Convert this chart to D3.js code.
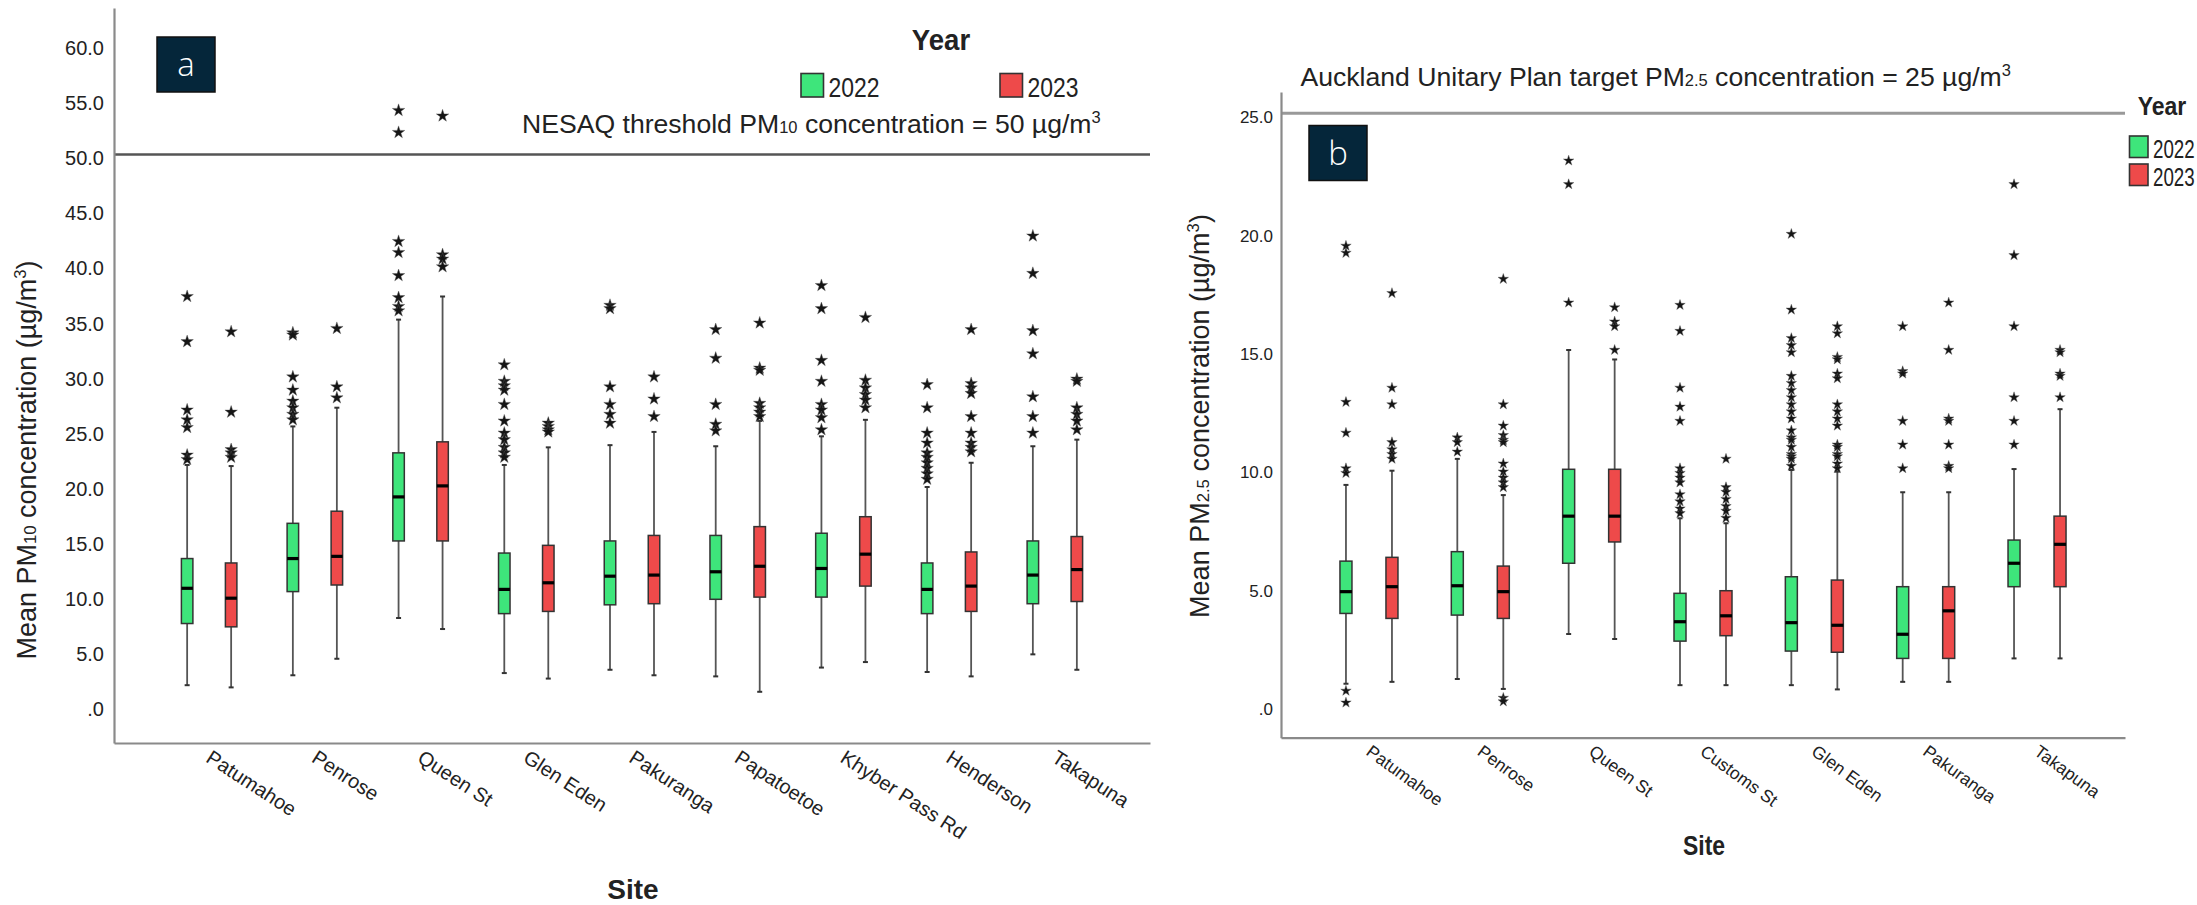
<!DOCTYPE html>
<html>
<head>
<meta charset="utf-8">
<script src="https://cdn.jsdelivr.net/npm/d3@7"></script>
<style>
  body { margin: 0; background: #fff; }
  text { font-family: "Liberation Sans", Arial, sans-serif; fill: #222; }
</style>
</head>
<body>
<script>
// ---- data ----
const years = ["2022", "2023"];
const yearColors = ["#3ee57b", "#ee4a4a"];

const sitesPM10 = ["Patumahoe", "Penrose", "Queen St", "Glen Eden", "Pakuranga",
                   "Papatoetoe", "Khyber Pass Rd", "Henderson", "Takapuna"];
const pm10Ticks = [0, 5, 10, 15, 20, 25, 30, 35, 40, 45, 50, 55, 60];

// [lower whisker, Q1, median, Q3, upper whisker]
const pm10Box2022 = [
  [1.8, 7.4, 10.6, 13.3, 21.8],
  [2.7, 10.3, 13.3, 16.5, 25.3],
  [7.9, 14.9, 18.9, 22.9, 35.0],
  [2.9, 8.3, 10.5, 13.8, 21.8],
  [3.2, 9.1, 11.7, 14.9, 23.6],
  [2.6, 9.6, 12.1, 15.4, 23.5],
  [3.4, 9.8, 12.4, 15.6, 24.4],
  [3.0, 8.3, 10.5, 12.9, 19.8],
  [4.6, 9.2, 11.8, 14.9, 23.5]
];
const pm10Box2023 = [
  [1.6, 7.1, 9.7, 12.9, 21.7],
  [4.2, 10.9, 13.5, 17.6, 27.0],
  [6.9, 14.9, 19.9, 23.9, 37.1],
  [2.4, 8.5, 11.1, 14.5, 23.4],
  [2.7, 9.2, 11.8, 15.4, 24.8],
  [1.2, 9.8, 12.6, 16.2, 25.8],
  [3.9, 10.8, 13.7, 17.1, 25.9],
  [2.6, 8.5, 10.8, 13.9, 22.0],
  [3.2, 9.4, 12.3, 15.3, 24.1]
];
const pm10Out2022 = [
  [37.1, 33.0, 26.8, 25.9, 25.2, 22.7, 22.3],
  [33.8, 33.6, 29.8, 28.6, 27.6, 27.0, 26.4, 25.9],
  [54.0, 52.0, 42.1, 41.1, 39.0, 37.0, 36.2, 35.8],
  [30.9, 29.4, 29.0, 28.6, 27.3, 25.8, 24.7, 24.1, 23.4, 22.9, 22.5],
  [36.3, 36.0, 28.9, 27.3, 26.4, 25.6],
  [34.1, 31.5, 27.3, 25.5, 24.9],
  [38.1, 36.0, 31.3, 29.4, 27.3, 26.8, 26.1, 25.0],
  [29.1, 27.0, 24.7, 23.8, 22.9, 22.5, 22.0, 21.5, 21.0, 20.5],
  [42.6, 39.2, 34.0, 31.9, 28.0, 26.2, 24.7]
];
const pm10Out2023 = [
  [33.9, 26.6, 23.2, 22.9, 22.5],
  [34.2, 28.9, 27.9],
  [53.5, 40.9, 40.5, 39.8],
  [25.6, 25.3, 25.0, 24.8],
  [29.8, 27.8, 26.2],
  [34.7, 30.6, 30.4, 27.4, 27.0, 26.6, 26.2],
  [35.2, 29.5, 28.8, 28.2, 27.7, 27.0],
  [34.1, 29.2, 28.8, 28.3, 26.2, 24.7, 23.8, 23.4, 23.0],
  [29.6, 29.4, 27.0, 26.4, 25.8, 25.0]
];

const sitesPM25 = ["Patumahoe", "Penrose", "Queen St", "Customs St", "Glen Eden", "Pakuranga", "Takapuna"];
const pm25Ticks = [0, 5, 10, 15, 20, 25];

const pm25Box2022 = [
  [0.9, 3.87, 4.79, 6.08, 9.3],
  [1.1, 3.8, 5.04, 6.48, 10.4],
  [3.0, 5.99, 7.98, 9.96, 15.0],
  [0.84, 2.70, 3.52, 4.72, 7.89],
  [0.84, 2.28, 3.48, 5.42, 9.93],
  [0.98, 1.97, 2.99, 5.0, 8.99],
  [1.97, 5.0, 5.99, 6.97, 9.97]
];
const pm25Box2023 = [
  [0.98, 3.66, 5.0, 6.24, 9.9],
  [0.68, 3.66, 4.79, 5.87, 8.87],
  [2.79, 6.89, 7.98, 9.96, 14.6],
  [0.84, 2.93, 3.77, 4.83, 7.68],
  [0.66, 2.23, 3.37, 5.28, 9.86],
  [0.98, 1.97, 3.98, 5.0, 8.99],
  [1.97, 5.0, 6.79, 7.98, 12.5]
];
const pm25Out2022 = [
  [19.4, 19.1, 12.8, 11.5, 10.0, 9.8, 0.6, 0.1],
  [11.3, 11.1, 10.7],
  [23.0, 22.0, 17.0],
  [16.9, 15.8, 13.4, 12.6, 12.0, 10.0, 9.8, 9.6, 9.4, 8.9, 8.6, 8.3, 8.1],
  [19.9, 16.7, 15.5, 15.2, 14.9, 13.9, 13.6, 13.3, 13.0, 12.7, 12.4, 12.1, 11.6,
   11.3, 11.2, 10.9, 10.6, 10.5, 10.4, 10.1],
  [16.0, 14.1, 14.0, 12.0, 11.0, 10.0],
  [22.0, 19.0, 16.0, 13.0, 12.0, 11.0]
];
const pm25Out2023 = [
  [17.4, 13.4, 12.7, 11.1, 10.8, 10.6, 10.4],
  [18.0, 12.7, 11.8, 11.4, 11.2, 11.1, 10.2, 9.86, 9.6, 9.4, 9.2, 0.3, 0.15],
  [16.8, 16.2, 16.0, 15.0],
  [10.4, 9.2, 9.0, 8.7, 8.4, 8.2, 7.9],
  [16.0, 15.7, 14.7, 14.6, 14.0, 13.8, 12.7, 12.4, 12.1, 11.8, 11.0, 10.9, 10.6, 10.5, 10.2, 10.0],
  [17.0, 15.0, 12.1, 12.0, 11.0, 10.1, 10.0],
  [15.0, 14.9, 14.0, 13.9, 13.0]
];

// ---- svg ----
const svg = d3.select("body").append("svg")
    .attr("width", 2197)
    .attr("height", 905);

svg.append("rect").attr("width", 2197).attr("height", 905).attr("fill", "#fff");

const fmt = d => d === 0 ? ".0" : d.toFixed(1);

// text with sub / sup parts
const rich = (sel, parts) => {
  parts.forEach(([t, kind]) => {
    const ts = sel.append("tspan").text(t);
    if (kind === "sub") ts.attr("font-size", "62%");
    if (kind === "sup") ts.attr("font-size", "62%").attr("dy", -10);
    if (kind === "back") ts.attr("dy", 10);
  });
};

const drawPanel = p => {
  const g = svg.append("g");

  const x = d3.scalePoint()
      .domain(p.sites)
      .range(p.xRange)
      .padding(p.pad);

  const xYear = d3.scaleBand()
      .domain(years)
      .range([-2 * p.offset, 2 * p.offset]);

  const y = d3.scaleLinear()
      .domain(p.yDomain)
      .range(p.yRange);

  // threshold line
  g.append("line")
      .attr("x1", p.xRange[0]).attr("x2", p.xRange[1])
      .attr("y1", y(p.threshold)).attr("y2", y(p.threshold))
      .attr("stroke", p.thrColor)
      .attr("stroke-width", p.thrWidth);

  // y axis
  const ya = g.append("g")
      .attr("transform", `translate(${p.xRange[0]},0)`)
      .call(d3.axisLeft(y).tickValues(p.ticks).tickSize(0).tickSizeOuter(0)
              .tickPadding(p.tickGap).tickFormat(fmt));
  ya.attr("font-family", null).attr("font-size", null);
  ya.select(".domain").attr("stroke", "#8a8a8a").attr("stroke-width", 2.2);
  ya.selectAll("text")
      .attr("y", 4)
      .style("font-size", p.tickFont + "px")
      .attr("fill", "#333");

  // x axis
  const xa = g.append("g")
      .attr("transform", `translate(0,${p.yRange[0]})`)
      .call(d3.axisBottom(x).tickSize(0).tickSizeOuter(0));
  xa.attr("font-family", null).attr("font-size", null);
  xa.select(".domain").attr("stroke", "#8a8a8a").attr("stroke-width", 2.2);
  xa.selectAll("text")
      .attr("x", 0).attr("y", 0).attr("dy", null)
      .attr("text-anchor", "start")
      .attr("dominant-baseline", "hanging")
      .attr("transform", `translate(3,6) rotate(${p.labelAngle})`)
      .style("font-size", p.labelFont + "px")
      .attr("fill", "#333");

  // boxes
  const boxes = p.sites.flatMap((s, j) => years.map((yr, i) => ({
    site: s, year: yr, v: p.box[i][j], out: p.out[i][j], color: yearColors[i]
  })));

  const bx = g.append("g")
    .selectAll("g")
    .data(boxes)
    .join("g")
      .attr("transform", d => `translate(${x(d.site) + xYear(d.year) + xYear.bandwidth() / 2},0)`);

  bx.append("line")
      .attr("y1", d => y(d.v[0])).attr("y2", d => y(d.v[4]))
      .attr("stroke", "#555").attr("stroke-width", 1.8);

  bx.selectAll(".cap")
    .data(d => [d.v[0], d.v[4]])
    .join("line")
      .attr("class", "cap")
      .attr("x1", -2.5).attr("x2", 2.5)
      .attr("y1", v => y(v)).attr("y2", v => y(v))
      .attr("stroke", "#333").attr("stroke-width", 2);

  bx.append("rect")
      .attr("x", -p.boxW / 2)
      .attr("width", p.boxW)
      .attr("y", d => y(d.v[3]))
      .attr("height", d => y(d.v[1]) - y(d.v[3]))
      .attr("fill", d => d.color)
      .attr("stroke", "#333").attr("stroke-width", 1.5);

  bx.append("line")
      .attr("x1", -p.boxW / 2).attr("x2", p.boxW / 2)
      .attr("y1", d => y(d.v[2])).attr("y2", d => y(d.v[2]))
      .attr("stroke", "#000").attr("stroke-width", 3.2);

  bx.selectAll(".out")
    .data(d => d.out)
    .join("path")
      .attr("class", "out")
      .attr("d", d3.symbol(d3.symbolStar, p.starSize))
      .attr("transform", v => `translate(0,${y(v)})`)
      .attr("fill", "#151515")
      .attr("stroke", "#555").attr("stroke-width", 0.4);

  // threshold label
  const tl = g.append("text")
      .attr("x", p.thrText[0]).attr("y", p.thrText[1])
      .style("font-size", "26.6px");
  rich(tl, p.thrParts);

  // axis titles
  const yt = g.append("text")
      .attr("transform", `translate(${p.yTitle[0]},${p.yTitle[1]}) rotate(-90)`)
      .attr("text-anchor", "middle")
      .style("font-size", "27px");
  rich(yt, p.yParts);

  g.append("text")
      .attr("transform", `translate(${p.xTitle[0]},${p.xTitle[1]}) scale(${p.xTitle[3]},1)`)
      .attr("text-anchor", "middle")
      .style("font-size", p.xTitle[2] + "px")
      .style("font-weight", "bold")
      .attr("fill", "#111")
      .text("Site");

  // panel letter
  g.append("rect")
      .attr("x", p.letterBox[0]).attr("y", p.letterBox[1])
      .attr("width", 58).attr("height", 55)
      .attr("fill", "#05263a").attr("stroke", "#111").attr("stroke-width", 1.5);
  g.append("text")
      .attr("x", p.letterBox[0] + 29).attr("y", p.letterBox[1] + 39)
      .attr("text-anchor", "middle")
      .style("font-family", "'Open Sans', sans-serif")
      .style("font-weight", 300)
      .style("font-size", "33px")
      .attr("fill", "#fff")
      .style("fill", "#fff")
      .text(p.letter);

  // legend
  const L = p.legend;
  g.append("text")
      .attr("transform", `translate(${L.title[0]},${L.title[1]}) scale(${L.titleScale},1)`)
      .attr("text-anchor", "middle")
      .style("font-size", L.titleFont + "px")
      .style("font-weight", "bold")
      .attr("fill", "#111")
      .text("Year");

  const li = g.selectAll(".leg")
    .data(years)
    .join("g")
      .attr("class", "leg")
      .attr("transform", (d, i) => `translate(${L.items[i][0]},${L.items[i][1]})`);
  li.append("rect")
      .attr("width", L.sw[0]).attr("height", L.sw[1])
      .attr("fill", (d, i) => yearColors[i])
      .attr("stroke", "#333").attr("stroke-width", 1.6);
  li.append("text")
      .attr("transform", `translate(${L.sw[0] + 5},${L.sw[1]}) scale(${L.textScale},1)`)
      .style("font-size", L.textFont + "px")
      .attr("fill", "#333")
      .text(d => d);
};

drawPanel({
  sites: sitesPM10, box: [pm10Box2022, pm10Box2023], out: [pm10Out2022, pm10Out2023],
  ticks: pm10Ticks, threshold: 50,
  xRange: [114, 1150], pad: 0.9, offset: 22, boxW: 11.5,
  yDomain: [-3.45, 63.3], yRange: [743, 8],
  tickFont: 20, tickGap: 10, labelFont: 20, labelAngle: 33, starSize: 48,
  thrColor: "#555", thrWidth: 2.4,
  thrText: [522, 133],
  thrParts: [["NESAQ threshold PM"], ["10", "sub"], [" concentration = 50 µg/m"], ["3", "sup"]],
  yTitle: [36, 460],
  yParts: [["Mean PM"], ["10", "sub"], [" concentration (µg/m"], ["3", "sup"], [")", "back"]],
  xTitle: [633, 899, 28, 1],
  letter: "a", letterBox: [157, 37],
  legend: {
    title: [941, 50], titleFont: 30, titleScale: 0.92,
    items: [[801, 73.5], [1000, 73.5]], sw: [22.5, 23.5],
    textFont: 28, textScale: 0.82
  }
});

drawPanel({
  sites: sitesPM25, box: [pm25Box2022, pm25Box2023], out: [pm25Out2022, pm25Out2023],
  ticks: pm25Ticks, threshold: 25,
  xRange: [1281, 2125], pad: 0.79, offset: 23, boxW: 12,
  yDomain: [-1.38, 25.9], yRange: [737.7, 92],
  tickFont: 17, tickGap: 8, labelFont: 17.5, labelAngle: 36, starSize: 34,
  thrColor: "#999", thrWidth: 3,
  thrText: [1300.5, 86],
  thrParts: [["Auckland Unitary Plan target PM"], ["2.5", "sub"], [" concentration = 25 µg/m"], ["3", "sup"]],
  yTitle: [1209, 416],
  yParts: [["Mean PM"], ["2.5", "sub"], [" concentration (µg/m"], ["3", "sup"], [")", "back"]],
  xTitle: [1704, 855, 27, 0.85],
  letter: "b", letterBox: [1309, 125.5],
  legend: {
    title: [2162, 115], titleFont: 25, titleScale: 0.92,
    items: [[2129.5, 136], [2129.5, 164]], sw: [18.5, 21.5],
    textFont: 25, textScale: 0.75
  }
});
</script>
</body>
</html>
